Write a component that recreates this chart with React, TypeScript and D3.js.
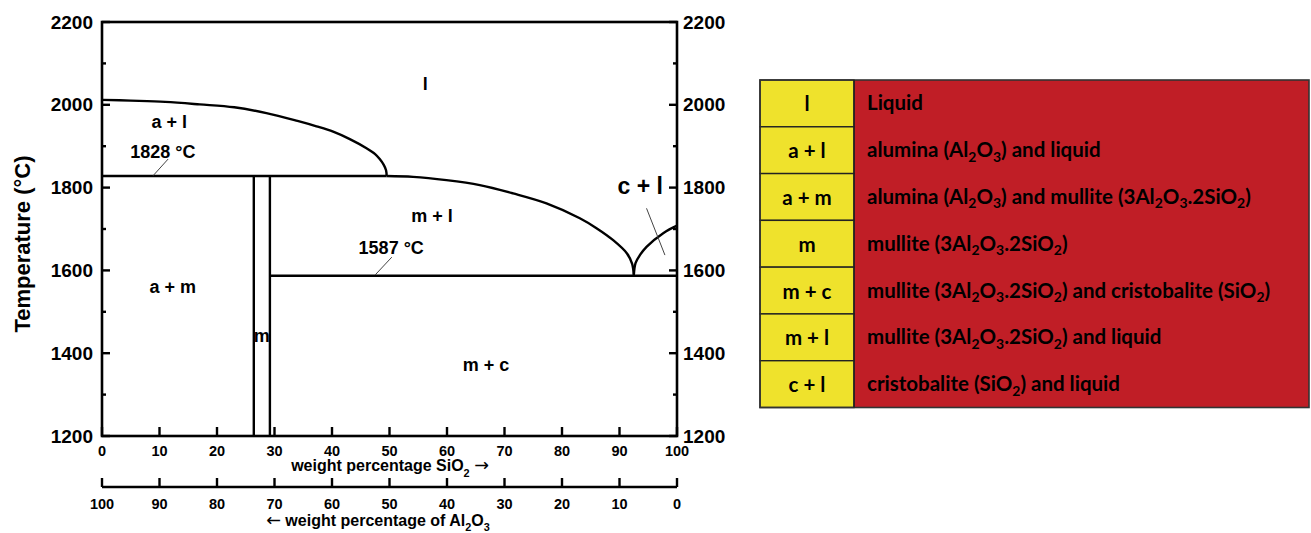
import React from 'react';
import * as d3 from 'd3';

// ---------- DATA ----------
const sio2Ticks = [0, 10, 20, 30, 40, 50, 60, 70, 80, 90, 100];
const al2o3Ticks = [100, 90, 80, 70, 60, 50, 40, 30, 20, 10, 0];
const tempTicks = [1200, 1400, 1600, 1800, 2000, 2200];
const tempMinorTicks = [1300, 1500, 1700, 1900, 2100];

// [wt% SiO2, temperature °C]
const aluminaLiquidus: [number, number][] = [
  [0, 2012], [5, 2010], [11, 2007], [17, 2001], [23, 1994], [28.6, 1980],
  [34, 1961], [37.3, 1948], [40.2, 1935], [43.1, 1917],
  [46, 1895], [47.5, 1881], [48.3, 1869], [49, 1855], [49.4, 1842], [49.5, 1828],
];
const mulliteLiquidus: [number, number][] = [
  [49.5, 1828], [54.1, 1826], [59.9, 1818], [65.7, 1806], [71.5, 1786],
  [77.3, 1762], [83.1, 1726], [86, 1702], [88.9, 1673], [91.3, 1641],
  [92.2, 1616], [92.5, 1587],
];
const cristobaliteLiquidus: [number, number][] = [
  [92.5, 1590], [92.8, 1618], [93.6, 1638], [94.7, 1657], [97.6, 1690], [100, 1708],
];
const eutectic1828: [number, number][] = [[0, 1828], [49.5, 1828]];
const eutectic1587: [number, number][] = [[29.2, 1587], [100, 1587]];
const mulliteLeftBoundary: [number, number][] = [[26.4, 1828], [26.4, 1200]];
const mulliteRightBoundary: [number, number][] = [[29.2, 1828], [29.2, 1200]];

const phaseLabels = [
  { text: 'l', x: 56.2, t: 2050 },
  { text: 'a + l', x: 11.7, t: 1958 },
  { text: 'a + m', x: 12.3, t: 1560 },
  { text: 'm', x: 27.8, t: 1442 },
  { text: 'm + l', x: 57.4, t: 1731 },
  { text: 'm + c', x: 66.8, t: 1371 },
];
const bigLabels = [{ text: 'c + l', x: 93.6, t: 1804 }];
const tempLabels = [
  { text: '1828 °C', x: 10.6, t: 1886 },
  { text: '1587 °C', x: 50.3, t: 1654 },
];
const leaders: [number, number][][] = [
  [[11.5, 1869], [8.9, 1829]],
  [[50.4, 1632], [47.5, 1589]],
  [[94.7, 1750], [97.9, 1637]],
];

const legendKeys = ['l', 'a + l', 'a + m', 'm', 'm + c', 'm + l', 'c + l'];
const legendDescriptions = [
  'Liquid',
  'alumina (Al_2O_3) and liquid',
  'alumina (Al_2O_3) and mullite (3Al_2O_3.2SiO_2)',
  'mullite (3Al_2O_3.2SiO_2)',
  'mullite (3Al_2O_3.2SiO_2) and cristobalite (SiO_2)',
  'mullite (3Al_2O_3.2SiO_2) and liquid',
  'cristobalite (SiO_2) and liquid',
];

// ---------- HELPERS ----------
const arrowFont = "'DejaVu Sans', sans-serif";
function rich(str: string, fs: number, subDy: number) {
  const parts = str.split(/_(\d)/);
  const out: React.ReactNode[] = [];
  let shifted = false;
  parts.forEach((p, i) => {
    if (i % 2 === 1) {
      out.push(<tspan key={i} dy={subDy} fontSize={fs * 0.68}>{p}</tspan>);
      shifted = true;
    } else if (p.length) {
      const segs = p.split(/([←→])/);
      segs.forEach((s, j) => {
        if (!s.length) return;
        const isArrow = s === '←' || s === '→';
        out.push(
          <tspan key={i + '-' + j} dy={shifted ? -subDy : 0} fontFamily={isArrow ? arrowFont : undefined} fontWeight={isArrow ? 'normal' : undefined} fontSize={isArrow ? fs * 1.1 : undefined}>{s}</tspan>
        );
        shifted = false;
      });
    }
  });
  return out;
}

export default function App() {
  const W = 1311, H = 533;
  const x = d3.scaleLinear().domain([0, 100]).range([102, 677]);
  const xAl = d3.scaleLinear().domain([100, 0]).range([102, 677]);
  const y = d3.scaleLinear().domain([1200, 2200]).range([436, 22]);
  const line = d3.line<[number, number]>().x(d => x(d[0])).y(d => y(d[1]));
  const curve = d3.line<[number, number]>().x(d => x(d[0])).y(d => y(d[1])).curve(d3.curveCatmullRom.alpha(0.5));

  const font = "'Liberation Sans', Arial, sans-serif";
  const axis2Y = 487;

  const legX = 760, legY = 80, legW = 549, legH = 327.5, keyW = 94;
  const rowH = legH / legendKeys.length;
  const legFont = "Lato, 'Open Sans', sans-serif";
  const legFs = 20.5;

  return (
    <svg width={W} height={H} style={{ position: 'absolute', left: 0, top: 0, background: '#fff' }} fontFamily={font}>
      <rect x={0} y={0} width={W} height={H} fill="#fff" />
      {/* phase boundaries */}
      <g fill="none" stroke="#000" strokeWidth={2.4}>
        <path d={curve(aluminaLiquidus) || ''} />
        <path d={curve(mulliteLiquidus) || ''} />
        <path d={curve(cristobaliteLiquidus) || ''} />
        <path d={line(eutectic1828) || ''} />
        <path d={line(eutectic1587) || ''} />
        <path d={line(mulliteLeftBoundary) || ''} />
        <path d={line(mulliteRightBoundary) || ''} />
      </g>
      <g fill="none" stroke="#444" strokeWidth={1}>
        {leaders.map((l, i) => <path key={i} d={line(l) || ''} />)}
      </g>
      {/* frame */}
      <rect x={x(0)} y={y(2200)} width={x(100) - x(0)} height={y(1200) - y(2200)} fill="none" stroke="#000" strokeWidth={2.6} />
      {/* ticks */}
      <g stroke="#000" strokeWidth={2.4}>
        {tempTicks.map(t => (
          <g key={t}>
            <line x1={x(0)} x2={x(0) + 8} y1={y(t)} y2={y(t)} />
            <line x1={x(100)} x2={x(100) - 8} y1={y(t)} y2={y(t)} />
          </g>
        ))}
        {tempMinorTicks.map(t => (
          <g key={t}>
            <line x1={x(0)} x2={x(0) + 4} y1={y(t)} y2={y(t)} />
            <line x1={x(100)} x2={x(100) - 4} y1={y(t)} y2={y(t)} />
          </g>
        ))}
        {sio2Ticks.map(v => (
          <line key={v} x1={x(v)} x2={x(v)} y1={y(1200)} y2={y(1200) - 9} />
        ))}
      </g>
      <g fontWeight="bold" fontSize={19} fill="#000">
        {tempTicks.map(t => (
          <text key={'l' + t} x={93} y={y(t)} textAnchor="end" dominantBaseline="central">{t}</text>
        ))}
        {tempTicks.map(t => (
          <text key={'r' + t} x={683} y={y(t)} textAnchor="start" dominantBaseline="central">{t}</text>
        ))}
      </g>
      <text transform="translate(22,244) rotate(-90)" textAnchor="middle" dominantBaseline="central" fontWeight="bold" fontSize={22}>Temperature (°C)</text>
      {/* x axis labels */}
      <g fontWeight="bold" fontSize={14.5} textAnchor="middle">
        {sio2Ticks.map(v => (
          <text key={v} x={x(v)} y={456}>{v}</text>
        ))}
      </g>
      <text x={390} y={471} textAnchor="middle" fontWeight="bold" fontSize={16}>
        {rich('weight percentage SiO_2 →', 16, 6)}
      </text>
      {/* second axis (Al2O3) */}
      <g stroke="#000" strokeWidth={2.4} fill="none">
        <line x1={xAl(100)} x2={xAl(0)} y1={axis2Y} y2={axis2Y} />
        {al2o3Ticks.map(v => (
          <line key={v} x1={xAl(v)} x2={xAl(v)} y1={axis2Y} y2={axis2Y - 9} />
        ))}
      </g>
      <g fontWeight="bold" fontSize={14.5} textAnchor="middle">
        {al2o3Ticks.map(v => (
          <text key={v} x={xAl(v)} y={509}>{v}</text>
        ))}
      </g>
      <text x={378} y={526} textAnchor="middle" fontWeight="bold" fontSize={16}>
        {rich('← weight percentage of Al_2O_3', 16, 5)}
      </text>
      {/* phase labels */}
      <g fontWeight="bold" fontSize={18} textAnchor="middle" dominantBaseline="central">
        {phaseLabels.map(p => (
          <text key={p.text} x={x(p.x)} y={y(p.t)}>{p.text}</text>
        ))}
        {tempLabels.map(p => (
          <text key={p.text} x={x(p.x)} y={y(p.t)}>{p.text}</text>
        ))}
        {bigLabels.map(p => (
          <text key={p.text} x={x(p.x)} y={y(p.t)} fontSize={23}>{p.text}</text>
        ))}
      </g>
      {/* legend table */}
      <g>
        <rect x={legX + keyW} y={legY} width={legW - keyW} height={legH} fill="#c01e26" />
        {legendKeys.map((k, i) => (
          <rect key={k} x={legX} y={legY + i * rowH} width={keyW} height={rowH} fill="#efe22c" stroke="#222" strokeWidth={1.4} />
        ))}
        <rect x={legX} y={legY} width={legW} height={legH} fill="none" stroke="#333" strokeWidth={1.6} />
        <line x1={legX + keyW} x2={legX + keyW} y1={legY} y2={legY + legH} stroke="#222" strokeWidth={1.4} />
        <g fontFamily={legFont} fontWeight="bold" fontSize={legFs} fill="#000">
          {legendKeys.map((k, i) => (
            <text key={k} x={legX + keyW / 2} y={legY + (i + 0.5) * rowH} textAnchor="middle" dominantBaseline="central">{k}</text>
          ))}
          {legendDescriptions.map((d, i) => (
            <text key={i} x={867} y={legY + (i + 0.5) * rowH + 7}>{rich(d, legFs, 4.5)}</text>
          ))}
        </g>
      </g>
    </svg>
  );
}
